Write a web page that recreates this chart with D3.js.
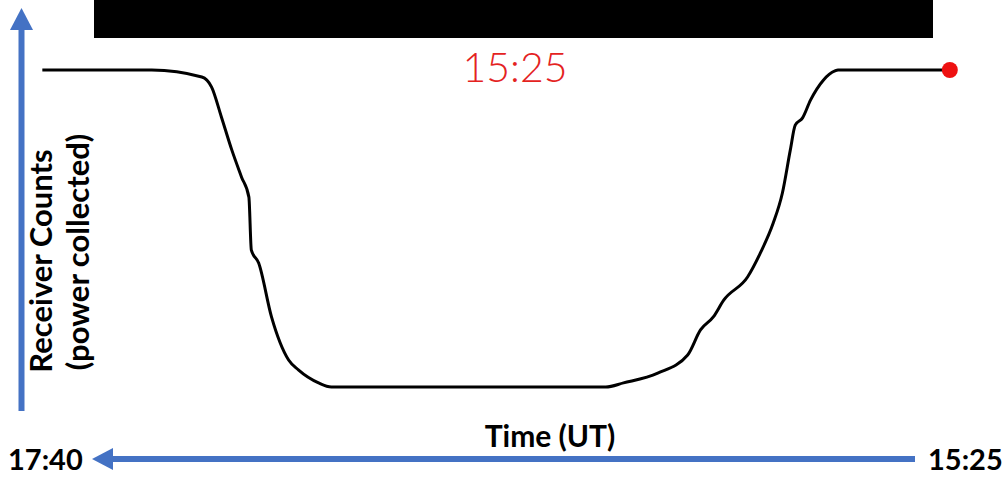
<!DOCTYPE html>
<html>
<head>
<meta charset="utf-8">
<script src="https://cdn.jsdelivr.net/npm/d3@7"></script>
<style>
  body { margin: 0; background: #fff; }
  svg { display: block; }
  .lbl { font-family: Lato, "Open Sans", sans-serif; font-weight: 700; fill: #000; }
</style>
</head>
<body>
<div id="chart"></div>
<script>
// minutes after 15:25 UT (time runs right -> left)
const minutes = [142.8, 124.9, 116.7, 115.1, 113.5, 111.8, 110.2, 109.0, 108.6, 107.4,
  105.3, 102.5, 100.9, 97.6, 95.5, 50.6, 47.7, 42.1, 37.2, 35.1, 33.0, 31.3, 27.4,
  25.3, 23.2, 21.7, 20.4, 19.6, 18.4, 17.1, 15.0, 13.1, 12.6, -5.7];
// receiver counts, normalised (1 = unblocked, 0 = fully blocked)
const counts = [1, 1, 0.978, 0.946, 0.852, 0.748, 0.662, 0.599, 0.432, 0.391,
  0.221, 0.085, 0.054, 0.013, 0, 0, 0.013, 0.044, 0.101, 0.180, 0.221, 0.274, 0.347,
  0.423, 0.517, 0.612, 0.748, 0.826, 0.849, 0.905, 0.968, 0.997, 1, 1];
const timeLabels = ["15:25", "17:40"];
const timeSpan = [0, 135]; // 15:25 -> 17:40
const currentLabel = "15:25";

const svgObj = { width: 1007, height: 479 };
const blue = "#4472C4";

const svg = d3.select("#chart").append("svg")
  .attr("width", svgObj.width)
  .attr("height", svgObj.height);

const x = d3.scaleLinear().domain(timeSpan).range([915, 90]);
const y = d3.scaleLinear().domain([0, 1]).range([387, 70]);

const data = minutes.map((m, i) => ({ m: m, c: counts[i] }));

// black bar at top
svg.append("rect")
  .attr("x", 94).attr("y", 0)
  .attr("width", 933 - 94).attr("height", 38)
  .attr("fill", "#000");

// current time in red
svg.append("text")
  .attr("x", 515).attr("y", 82)
  .attr("text-anchor", "middle")
  .style("font-family", "Lato, 'Open Sans', sans-serif")
  .style("font-weight", 300)
  .style("font-size", "41px")
  .attr("fill", "#e4231f")
  .text(currentLabel);

// vertical arrow
svg.append("line")
  .attr("x1", 21.5).attr("y1", 411)
  .attr("x2", 21.5).attr("y2", 26)
  .attr("stroke", blue).attr("stroke-width", 6);
svg.append("path")
  .attr("d", "M21.5,8 L33,30 L10,30 Z")
  .attr("fill", blue);

// horizontal arrow (time runs leftwards)
const arrowY = 459;
svg.append("line")
  .attr("x1", 915).attr("y1", arrowY)
  .attr("x2", x(timeSpan[1]) + 18).attr("y2", arrowY)
  .attr("stroke", blue).attr("stroke-width", 6);
svg.append("path")
  .attr("d", `M${x(timeSpan[1]) + 2},${arrowY} L${x(timeSpan[1]) + 23},${arrowY - 11} L${x(timeSpan[1]) + 23},${arrowY + 11} Z`)
  .attr("fill", blue);

// curve
const line = d3.line()
  .x(d => x(d.m))
  .y(d => y(d.c))
  .curve(d3.curveMonotoneX);

svg.append("path")
  .datum(data)
  .attr("d", line)
  .attr("fill", "none")
  .attr("stroke", "#000")
  .attr("stroke-width", 3);

const last = data[data.length - 1];
svg.append("circle")
  .attr("cx", x(last.m)).attr("cy", y(last.c))
  .attr("r", 8)
  .attr("fill", "#ee1111");

// axis labels
svg.append("text").attr("class", "lbl")
  .attr("transform", "translate(52,261) rotate(-90)")
  .attr("text-anchor", "middle")
  .style("font-size", "31px")
  .text("Receiver Counts");
svg.append("text").attr("class", "lbl")
  .attr("transform", "translate(89,252) rotate(-90)")
  .attr("text-anchor", "middle")
  .style("font-size", "31px")
  .text("(power collected)");

svg.append("text").attr("class", "lbl")
  .attr("x", 550).attr("y", 447)
  .attr("text-anchor", "middle")
  .style("font-size", "30px")
  .text("Time (UT)");

svg.append("text").attr("class", "lbl")
  .attr("x", 8).attr("y", 470)
  .style("font-size", "29px")
  .text(timeLabels[1]);
svg.append("text").attr("class", "lbl")
  .attr("x", 928).attr("y", 470)
  .style("font-size", "29px")
  .text(timeLabels[0]);
</script>
</body>
</html>
